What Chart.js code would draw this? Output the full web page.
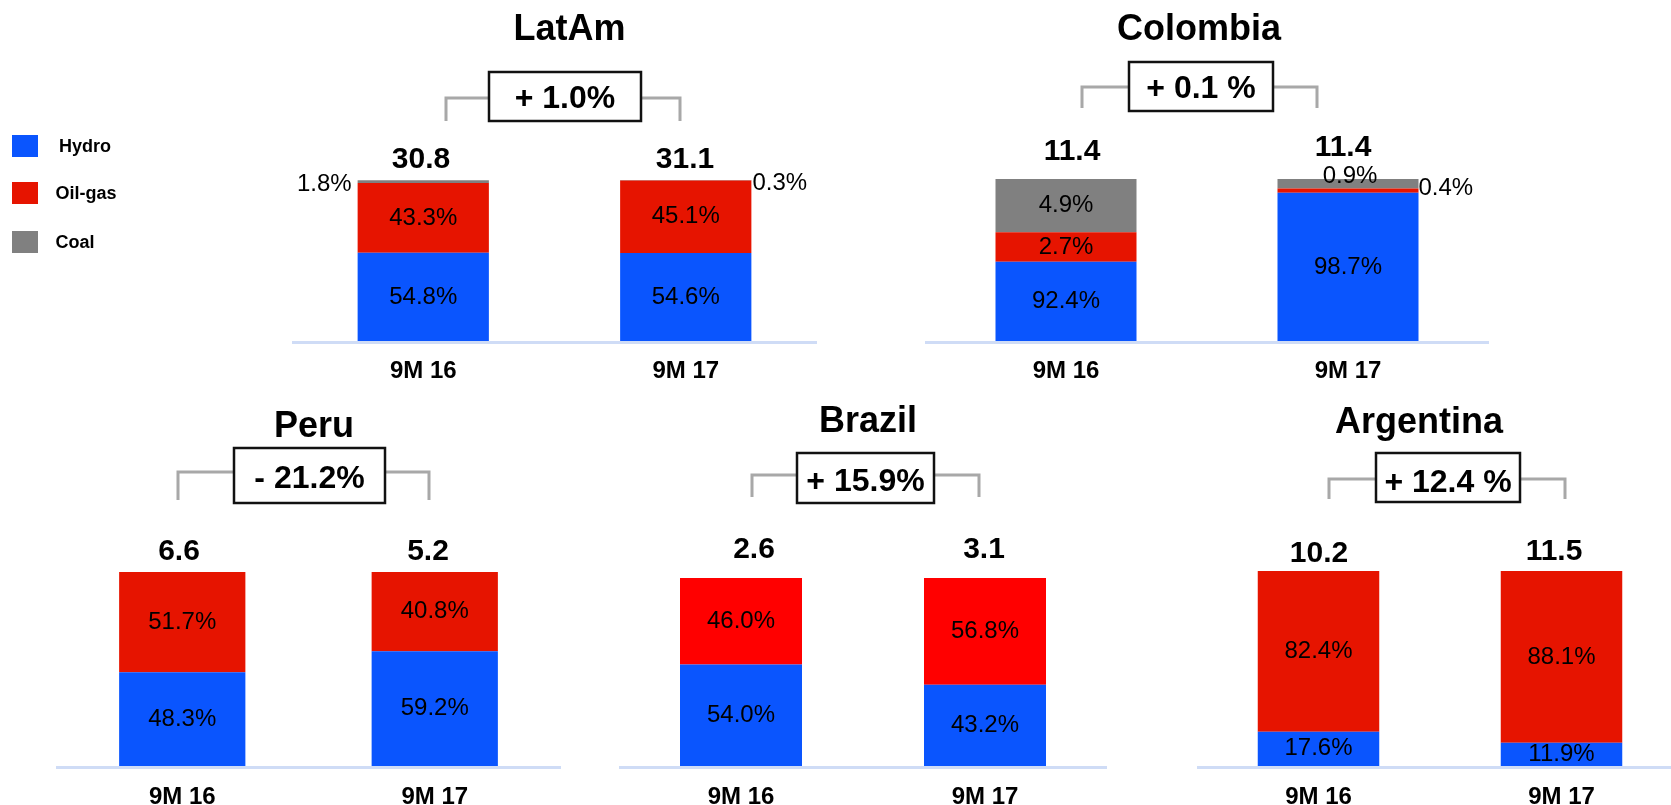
<!DOCTYPE html>
<html><head><meta charset="utf-8">
<script src="https://cdn.jsdelivr.net/npm/chart.js@4.4.0/dist/chart.umd.min.js"></script>
<style>
html,body{margin:0;padding:0;background:#fff;overflow:hidden;width:1671px;height:805px;position:relative}
canvas{position:absolute;left:0;top:0}
</style></head><body>
<script>
// ---------- DATA ----------
const categories = ['9M 16', '9M 17'];
const seriesNames = ['Hydro', 'Oil-gas', 'Coal'];

const latamHydro = [54.8, 54.6];
const latamOil = [43.3, 45.1];
const latamCoal = [1.8, 0.3];
const latamTotals = ['30.8', '31.1'];
const latamChange = '+ 1.0%';

// Colombia: bar segment heights as drawn in the picture, and the printed shares
const colombiaHydro = [48.9, 91.5];
const colombiaOil = [18.2, 2.7];
const colombiaCoal = [32.9, 5.8];
const colombiaHydroPct = [92.4, 98.7];
const colombiaOilPct = [2.7, 0.4];
const colombiaCoalPct = [4.9, 0.9];
const colombiaTotals = ['11.4', '11.4'];
const colombiaChange = '+ 0.1 %';

const peruHydro = [48.3, 59.2];
const peruOil = [51.7, 40.8];
const peruCoal = [0, 0];
const peruTotals = ['6.6', '5.2'];
const peruChange = '- 21.2%';

const brazilHydro = [54.0, 43.2];
const brazilOil = [46.0, 56.8];
const brazilCoal = [0, 0];
const brazilTotals = ['2.6', '3.1'];
const brazilChange = '+ 15.9%';

const argentinaHydro = [17.6, 11.9];
const argentinaOil = [82.4, 88.1];
const argentinaCoal = [0, 0];
const argentinaTotals = ['10.2', '11.5'];
const argentinaChange = '+ 12.4 %';

// ---------- STYLE / LAYOUT ----------
const FONT = '"Liberation Sans", Arial, Helvetica, sans-serif';
const W = 1700, H = 805;
const BLUE = '#0a55fe', RED = '#e61400', GRAY = '#808080';

const panels = [
  { key:'latam', title:'LatAm', hydro:latamHydro, oil:latamOil, coal:latamCoal, totals:latamTotals, change:latamChange,
    oilColor:RED, area:[292,180,817,341], titlePos:[569.5,40],
    bracket:{l:446,r:680,y:98,b:121,box:[489,72,641,121],text:[565,108]},
    totalPos:[[421,168],[685,168]], catDy:37,
    special:{'2-0':{pos:'left',gap:6,dy:2.5}, '2-1':{pos:'right',gap:1,dy:3.5}} },
  { key:'colombia', title:'Colombia', hydro:colombiaHydro, oil:colombiaOil, coal:colombiaCoal,
    hydroPct:colombiaHydroPct, oilPct:colombiaOilPct, coalPct:colombiaCoalPct,
    totals:colombiaTotals, change:colombiaChange,
    oilColor:RED, area:[925,179,1489,341], titlePos:[1199,40],
    bracket:{l:1082,r:1317,y:87,b:108,box:[1129,62,1273,111],text:[1201,98]},
    totalPos:[[1072,160],[1343,156]], catDy:37,
    special:{'2-1':{pos:'center',dx:2,dy:-7}, '1-1':{pos:'right',gap:0,dy:-2}} },
  { key:'peru', title:'Peru', hydro:peruHydro, oil:peruOil, coal:peruCoal, totals:peruTotals, change:peruChange,
    oilColor:RED, area:[56,572,561,766], titlePos:[314,437],
    bracket:{l:178,r:429,y:472,b:500,box:[234,448,385,503],text:[309.5,488]},
    totalPos:[[179,560],[428,560]], catDy:38, special:{} },
  { key:'brazil', title:'Brazil', hydro:brazilHydro, oil:brazilOil, coal:brazilCoal, totals:brazilTotals, change:brazilChange,
    oilColor:'#ff0000', area:[619,578,1107,766], titlePos:[868,432],
    bracket:{l:752,r:979,y:475,b:497,box:[797,453,934,503],text:[865.5,491]},
    totalPos:[[754,558],[984,558]], catDy:38, special:{} },
  { key:'argentina', title:'Argentina', hydro:argentinaHydro, oil:argentinaOil, coal:argentinaCoal, totals:argentinaTotals, change:argentinaChange,
    oilColor:RED, area:[1197,571,1683,766], titlePos:[1419,433],
    bracket:{l:1329,r:1565,y:479,b:499,box:[1376,453,1520,502],text:[1448,492]},
    totalPos:[[1319,562],[1554,560]], catDy:38, special:{} }
];

const legendLayout = { x:12, w:26, h:22, tops:[135,182,231], textX:[59,55.5,55.5] };

function fmt(v){ return (v && v > 0) ? v.toFixed(1) + '%' : ''; }

function decoPlugin(p, drawLegend){
  return {
    id: 'deco_' + p.key,
    afterDatasetsDraw(chart){
      const ctx = chart.ctx, ca = chart.chartArea;
      ctx.save();
      // baseline
      ctx.strokeStyle = '#cfdcf6'; ctx.lineWidth = 3;
      ctx.beginPath(); ctx.moveTo(ca.left, ca.bottom + 1.5); ctx.lineTo(ca.right, ca.bottom + 1.5); ctx.stroke();

      // segment labels
      ctx.font = '24px ' + FONT; ctx.fillStyle = '#000';
      chart.data.datasets.forEach((ds, di) => {
        const meta = chart.getDatasetMeta(di);
        meta.data.forEach((el, i) => {
          const txt = ds.labelText[i]; if (!txt) return;
          const sp = p.special[di + '-' + i];
          const top = Math.min(el.y, el.base), bot = Math.max(el.y, el.base);
          let x = el.x, y = (top + bot) / 2, align = 'center';
          if (sp){
            y += sp.dy || 0;
            if (sp.pos === 'left'){ x = el.x - el.width/2 - sp.gap; align = 'right'; }
            else if (sp.pos === 'right'){ x = el.x + el.width/2 + sp.gap; align = 'left'; }
            else { x += sp.dx || 0; }
          }
          ctx.textAlign = align; ctx.textBaseline = 'middle';
          ctx.fillText(txt, x, y);
        });
      });

      // category labels
      ctx.font = 'bold 24px ' + FONT; ctx.textAlign = 'center'; ctx.textBaseline = 'alphabetic';
      const xs = chart.scales.x;
      chart.data.labels.forEach((lab, i) => {
        ctx.fillText(lab, xs.getPixelForTick(i), ca.bottom + p.catDy);
      });

      // totals
      ctx.font = 'bold 30px ' + FONT;
      p.totals.forEach((t, i) => { ctx.fillText(t, p.totalPos[i][0], p.totalPos[i][1]); });

      // title
      ctx.font = 'bold 36px ' + FONT;
      ctx.fillText(p.title, p.titlePos[0], p.titlePos[1]);

      // bracket
      const b = p.bracket;
      ctx.strokeStyle = '#a8a8a8'; ctx.lineWidth = 3; ctx.lineCap = 'butt';
      ctx.beginPath();
      ctx.moveTo(b.l, b.b); ctx.lineTo(b.l, b.y); ctx.lineTo(b.box[0], b.y);
      ctx.moveTo(b.box[2], b.y); ctx.lineTo(b.r, b.y); ctx.lineTo(b.r, b.b);
      ctx.stroke();
      ctx.fillStyle = '#fff';
      ctx.fillRect(b.box[0], b.box[1], b.box[2]-b.box[0], b.box[3]-b.box[1]);
      ctx.strokeStyle = '#111'; ctx.lineWidth = 2.5;
      ctx.strokeRect(b.box[0], b.box[1], b.box[2]-b.box[0], b.box[3]-b.box[1]);
      ctx.fillStyle = '#000'; ctx.font = 'bold 32px ' + FONT;
      ctx.fillText(p.change, b.text[0], b.text[1]);

      // legend
      if (drawLegend){
        const L = legendLayout;
        chart.data.datasets.forEach((ds, di) => {
          ctx.fillStyle = ds.legendColor;
          ctx.fillRect(L.x, L.tops[di], L.w, L.h);
          ctx.fillStyle = '#000'; ctx.font = 'bold 18px ' + FONT;
          ctx.textAlign = 'left'; ctx.textBaseline = 'middle';
          ctx.fillText(ds.label, L.textX[di], L.tops[di] + L.h/2 + 1);
        });
      }
      ctx.restore();
    }
  };
}

panels.forEach((p, idx) => {
  const cv = document.createElement('canvas');
  cv.width = W; cv.height = H;
  cv.style.width = W + 'px'; cv.style.height = H + 'px';
  document.body.appendChild(cv);
  const hp = p.hydroPct || p.hydro, op = p.oilPct || p.oil, cp = p.coalPct || p.coal;
  new Chart(cv.getContext('2d'), {
    type: 'bar',
    data: {
      labels: categories,
      datasets: [
        { label: seriesNames[0], data: p.hydro, backgroundColor: BLUE, legendColor: BLUE, labelText: hp.map(fmt) },
        { label: seriesNames[1], data: p.oil, backgroundColor: p.oilColor, legendColor: RED, labelText: op.map(fmt) },
        { label: seriesNames[2], data: p.coal, backgroundColor: GRAY, legendColor: GRAY, labelText: cp.map(fmt) }
      ]
    },
    options: {
      responsive: false, animation: false, devicePixelRatio: 1,
      layout: { padding: { left: p.area[0], top: p.area[1], right: W - p.area[2], bottom: H - p.area[3] } },
      datasets: { bar: { barPercentage: 0.5, categoryPercentage: 1, borderWidth: 0 } },
      scales: {
        x: { stacked: true, display: false },
        y: { stacked: true, display: false, min: 0, max: 100 }
      },
      plugins: { legend: { display: false }, tooltip: { enabled: false }, title: { display: false } }
    },
    plugins: [decoPlugin(p, idx === 0)]
  });
});
</script>
</body></html>
